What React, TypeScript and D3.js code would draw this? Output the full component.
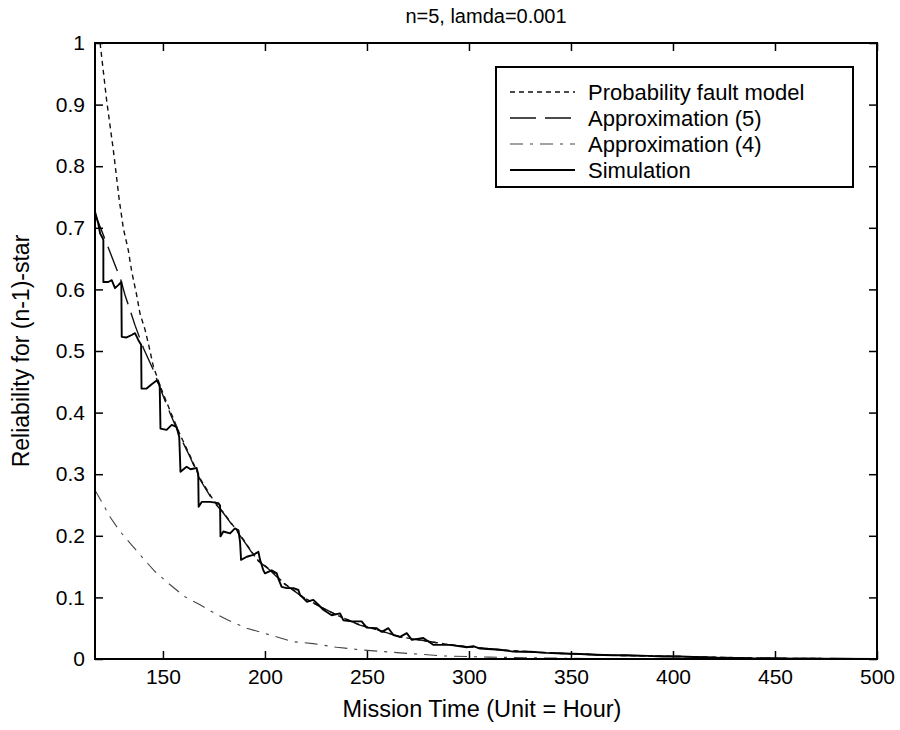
import React, { useEffect, useRef } from "react";
import * as d3 from "d3";

// Simulation (staircase)
const simT = [116.7, 118.3, 119.2, 120.5, 120.8, 120.8, 123.2, 124.9, 126.5, 128.1, 129.6, 129.8, 132.2, 134.7, 136.3, 137.9, 139.3, 139.5, 142.0, 144.5, 146.9, 148.4, 148.8, 151.8, 154.3, 156.7, 158.0, 158.6, 161.6, 163.5, 166.5, 167.3, 167.5, 169.0, 173.1, 177.2, 178.0, 178.2, 179.6, 182.9, 185.3, 187.0, 187.8, 188.3, 191.1, 194.3, 196.8, 197.6, 199.2, 200.0, 203.3, 205.8, 206.6, 208.2, 210.7, 214.0, 216.4, 217.2, 218.8, 220.5, 223.7, 226.2, 228.6, 232.7, 236.8, 238.4, 242.5, 247.4, 249.9, 254.8, 257.3, 260.5, 263.0, 266.2, 269.5, 272.0, 277.6, 282.5, 290.7, 298.9, 302.1, 305.4, 315.2, 321.8, 330, 338.1, 346, 354.5, 362, 370.8, 378, 387.2, 395, 403.5, 420, 440, 470, 500];
const simV = [0.726, 0.707, 0.691, 0.683, 0.680, 0.612, 0.612, 0.615, 0.602, 0.607, 0.612, 0.523, 0.522, 0.526, 0.529, 0.518, 0.510, 0.439, 0.439, 0.446, 0.452, 0.445, 0.374, 0.372, 0.380, 0.377, 0.360, 0.304, 0.312, 0.308, 0.310, 0.300, 0.247, 0.255, 0.255, 0.253, 0.249, 0.199, 0.207, 0.204, 0.212, 0.209, 0.190, 0.161, 0.166, 0.169, 0.174, 0.161, 0.144, 0.139, 0.144, 0.139, 0.130, 0.117, 0.115, 0.115, 0.112, 0.104, 0.099, 0.093, 0.096, 0.088, 0.080, 0.071, 0.074, 0.063, 0.061, 0.061, 0.051, 0.050, 0.044, 0.050, 0.039, 0.036, 0.042, 0.031, 0.034, 0.023, 0.023, 0.019, 0.021, 0.017, 0.015, 0.012, 0.012, 0.010, 0.009, 0.008, 0.007, 0.006, 0.006, 0.005, 0.004, 0.004, 0.002, 0.001, 0.0005, 0.0002];

// Approximation (5)
const ap5T = [116.7, 120, 124, 129.4, 131.4, 136.3, 140.4, 145.3, 150.2, 153.5, 158.4, 163.3, 168.2, 174.7, 179.6, 184.5, 189.4, 196, 202.5, 209, 218.8, 227, 236.8, 246.6, 256.4, 266.2, 277.6, 290.7, 302.1, 315.2, 321.8, 338.1, 354.5, 370.8, 387.2, 403.5, 430, 460, 500];
const ap5V = [0.722, 0.695, 0.661, 0.615, 0.591, 0.542, 0.505, 0.469, 0.426, 0.399, 0.361, 0.328, 0.291, 0.256, 0.237, 0.215, 0.193, 0.161, 0.144, 0.123, 0.100, 0.085, 0.069, 0.055, 0.046, 0.036, 0.030, 0.023, 0.019, 0.015, 0.012, 0.010, 0.008, 0.006, 0.005, 0.004, 0.002, 0.001, 0.0003];

// Approximation (4)
const ap4T = [116.7, 120, 124, 129, 134.7, 140.4, 146.1, 152.6, 160.8, 168.2, 173.9, 181.3, 191.1, 202.5, 213.9, 223.6, 235.2, 246.6, 266.2, 287.3, 310, 350, 400, 500];
const ap4V = [0.274, 0.255, 0.231, 0.207, 0.185, 0.163, 0.142, 0.123, 0.101, 0.088, 0.077, 0.064, 0.050, 0.039, 0.028, 0.025, 0.019, 0.015, 0.010, 0.005, 0.003, 0.001, 0.0003, 0];

// Probability fault model
const pfmT = [119.2, 122.4, 125.7, 128.6, 130.6, 133, 134.7, 137.1, 138.8, 141.2, 143, 145.3, 149, 153.5, 158.4, 163.3, 168.2, 174.7, 179.6, 184.5, 189.4, 196, 202.5, 209, 218.8, 227, 236.8, 246.6, 256.4, 266.2, 277.6, 290.7, 302.1, 315.2, 338.1, 370.8, 403.5, 450, 500];
const pfmV = [1.0, 0.907, 0.826, 0.745, 0.699, 0.664, 0.629, 0.591, 0.560, 0.535, 0.510, 0.475, 0.440, 0.403, 0.364, 0.330, 0.293, 0.258, 0.238, 0.216, 0.194, 0.162, 0.145, 0.124, 0.100, 0.085, 0.069, 0.055, 0.046, 0.036, 0.030, 0.023, 0.019, 0.015, 0.010, 0.006, 0.004, 0.001, 0.0003];

const xTicks = [150, 200, 250, 300, 350, 400, 450, 500];
const yTicks = [0, 0.1, 0.2, 0.3, 0.4, 0.5, 0.6, 0.7, 0.8, 0.9, 1];

const legendNames = ["Probability fault model", "Approximation (5)", "Approximation (4)", "Simulation"];

const FONT = "'Liberation Sans', Arial, Helvetica, sans-serif";

const App = () => {
  const svgRef = useRef<SVGSVGElement>(null);

  useEffect(() => {
    const svg = d3.select(svgRef.current);
    svg.selectAll("*").remove();

    const left = 95, right = 877, top = 43, bottom = 659;

    const x = d3.scaleLinear().domain([116.7, 500]).range([left, right]);
    const y = d3.scaleLinear().domain([0, 1]).range([bottom, top]);

    svg.append("rect").attr("width", 900).attr("height", 730).attr("fill", "#fff");

    svg.append("defs").append("clipPath").attr("id", "plotclip")
      .append("rect").attr("x", left).attr("y", top)
      .attr("width", right - left).attr("height", bottom - top);

    const styles = [
      { name: legendNames[0], t: pfmT, v: pfmV, dash: "5,4", w: 1.4, color: "#111" },
      { name: legendNames[1], t: ap5T, v: ap5V, dash: "26,9", w: 1.4, color: "#111" },
      { name: legendNames[2], t: ap4T, v: ap4V, dash: "13,7,3,7", w: 1.1, color: "#444" },
      { name: legendNames[3], t: simT, v: simV, dash: null, w: 1.9, color: "#000" },
    ];

    const plot = svg.append("g").attr("clip-path", "url(#plotclip)");
    styles.forEach((s) => {
      const pts = s.t.map((t, i) => [x(t), y(s.v[i])] as [number, number]);
      plot.append("path")
        .datum(pts)
        .attr("fill", "none")
        .attr("stroke", s.color)
        .attr("stroke-width", s.w)
        .attr("stroke-dasharray", s.dash)
        .attr("stroke-linejoin", "round")
        .attr("d", d3.line());
    });

    // axes with inward ticks on all four sides
    const fmt = d3.format("~g");
    const styleAxis = (g) => {
      g.select(".domain").remove();
      g.selectAll(".tick line").attr("stroke", "#000").attr("stroke-width", 1.5);
      g.attr("font-family", FONT).attr("font-size", 21);
      g.selectAll("text").attr("fill", "#000");
    };

    svg.append("g").attr("transform", `translate(${left},0)`)
      .call(d3.axisLeft(y).tickValues(yTicks).tickSize(-8).tickPadding(10).tickFormat((d) => fmt(d)))
      .call(styleAxis);
    svg.append("g").attr("transform", `translate(${right},0)`)
      .call(d3.axisRight(y).tickValues(yTicks).tickSize(-8).tickFormat(() => ""))
      .call(styleAxis);
    svg.append("g").attr("transform", `translate(0,${bottom})`)
      .call(d3.axisBottom(x).tickValues(xTicks).tickSize(-8).tickPadding(10).tickFormat((d) => fmt(d)))
      .call(styleAxis);
    svg.append("g").attr("transform", `translate(0,${top})`)
      .call(d3.axisTop(x).tickValues(xTicks).tickSize(-8).tickFormat(() => ""))
      .call(styleAxis);

    svg.append("rect")
      .attr("x", left).attr("y", top)
      .attr("width", right - left).attr("height", bottom - top)
      .attr("fill", "none").attr("stroke", "#000").attr("stroke-width", 2);

    // title and axis labels
    svg.append("text")
      .attr("x", (left + right) / 2).attr("y", 23)
      .attr("text-anchor", "middle")
      .attr("font-family", FONT).attr("font-size", 20)
      .text("n=5, lamda=0.001");

    svg.append("text")
      .attr("x", (left + right) / 2 - 4).attr("y", 717)
      .attr("text-anchor", "middle")
      .attr("font-family", FONT).attr("font-size", 23.5)
      .text("Mission Time (Unit = Hour)");

    svg.append("text")
      .attr("transform", `translate(29,${(top + bottom) / 2}) rotate(-90)`)
      .attr("text-anchor", "middle")
      .attr("font-family", FONT).attr("font-size", 23)
      .text("Reliability for (n-1)-star");

    // legend
    const lg = svg.append("g");
    lg.append("rect")
      .attr("x", 496).attr("y", 67)
      .attr("width", 357).attr("height", 120)
      .attr("fill", "#fff").attr("stroke", "#000").attr("stroke-width", 2);
    styles.forEach((s, i) => {
      const cy = 92 + i * 26;
      lg.append("line")
        .attr("x1", 510).attr("x2", 575)
        .attr("y1", cy).attr("y2", cy)
        .attr("stroke", s.color).attr("stroke-width", s.w)
        .attr("stroke-dasharray", s.dash);
      lg.append("text")
        .attr("x", 588).attr("y", cy).attr("dy", "0.35em")
        .attr("font-family", FONT).attr("font-size", 22)
        .text(s.name);
    });
  }, []);

  return (
    <svg
      ref={svgRef}
      width={900}
      height={730}
      style={{ position: "absolute", left: 0, top: 0 }}
    />
  );
};

export default App;
